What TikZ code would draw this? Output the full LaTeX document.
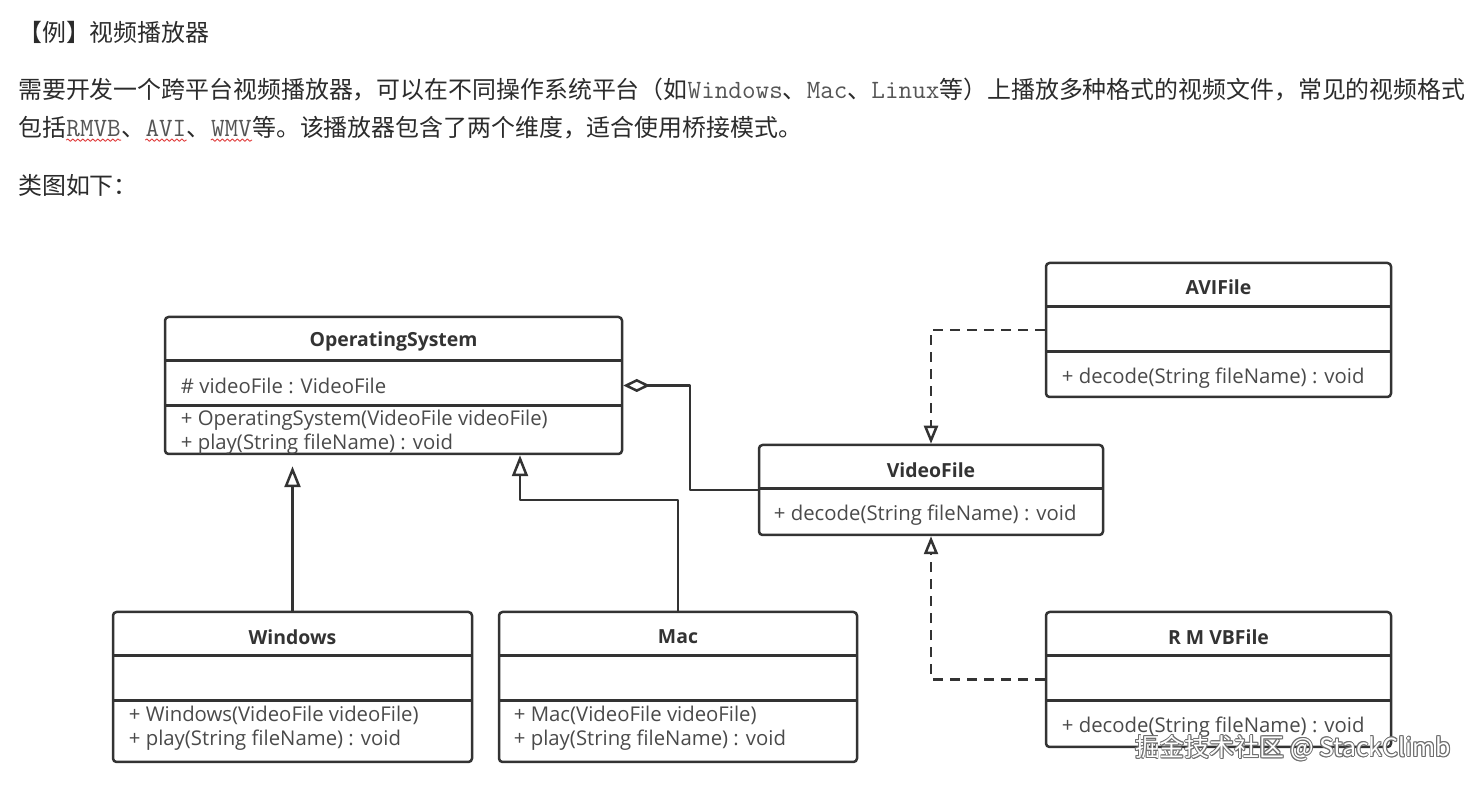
\documentclass[tikz,border=0pt]{standalone}
\usepackage{fontspec}
\setmainfont{Open Sans}
\newfontfamily\cjkfont{Noto Sans CJK SC}
\usetikzlibrary{arrows.meta,decorations.pathmorphing}
\definecolor{umlline}{HTML}{333333}
\definecolor{umltitle}{HTML}{333333}
\definecolor{umltext}{HTML}{4A4A4A}
\definecolor{bodytext}{HTML}{2B2B2B}
\definecolor{monotext}{HTML}{555555}
\definecolor{wavered}{HTML}{E03C3C}
\definecolor{markgrey}{HTML}{6E6E6E}
\newcommand{\monoword}[1]{\textcolor{monotext}{\ttfamily\fontsize{26.5}{28}\selectfont #1}}

\begin{document}
\begin{tikzpicture}[>=latex,line join=round,
  classbox/.style={draw=umlline,line width=2.5bp,rounded corners=3.5bp,fill=white,inner sep=0pt},
  ctitle/.style={font=\bfseries\fontsize{19.5}{22}\selectfont,text=umltitle,inner sep=0pt},
  member/.style={font=\fontsize{20.4}{23}\selectfont,text=umltext,anchor=west,inner sep=0pt},
  divider/.style={draw=umlline,line width=2.5bp},
  inherit/.style={draw=umlline,line width=2.5bp,-{Triangle[open,length=21bp,width=16bp]}},
  realize/.style={draw=umlline,line width=2.5bp,dash pattern=on 10bp off 7bp,-{Triangle[open,length=18bp,width=14bp]}},
  aggregate/.style={draw=umlline,line width=2.5bp,-{Diamond[open,length=27bp,width=13bp]}},
  bodyline/.style={font=\cjkfont\fontsize{24}{28}\selectfont,text=bodytext,anchor=west,inner sep=0pt},
  bodypart/.style={bodyline,anchor=base west},
  wavy/.style={draw=wavered,line width=0.9bp,decorate,decoration={snake,amplitude=1.2bp,segment length=5bp}},
  markline/.style={font=\cjkfont\fontsize{25}{29}\selectfont,inner sep=0pt},
]
\clip (0,0) rectangle (1475bp,785bp);
%%
\node (title) at (18bp,753bp) [bodyline] {【例】视频播放器};
\node (intro1) at (18bp,695bp) [bodyline] {需要开发一个跨平台视频播放器，可以在不同操作系统平台（如\monoword{Windows}、\monoword{Mac}、\monoword{Linux}等）上播放多种格式的视频文件，常见的视频格式};
\node (intro2) at (18bp,658bp) [bodyline] {包括};
\node (rmvb-word) at (intro2.base east) [bodypart] {\monoword{RMVB}};
\node (sep1) at (rmvb-word.base east) [bodypart] {、};
\node (avi-word) at (sep1.base east) [bodypart] {\monoword{AVI}};
\node (sep2) at (avi-word.base east) [bodypart] {、};
\node (wmv-word) at (sep2.base east) [bodypart] {\monoword{WMV}};
\node (intro2-rest) at (wmv-word.base east) [bodypart] {等。该播放器包含了两个维度，适合使用桥接模式。};
\foreach \w in {rmvb-word,avi-word,wmv-word}
  \draw [wavy] ([yshift=-4bp]\w.base west) -- ([yshift=-4bp]\w.base east);
\node (caption) at (18bp,600bp) [bodyline] {类图如下：};
%%
\node (os) at (393.5bp,399.5bp) [classbox,minimum width=457bp,minimum height=137bp] {};
\node (win) at (292.5bp,98bp) [classbox,minimum width=359bp,minimum height=150bp] {};
\node (mac) at (678bp,98bp) [classbox,minimum width=358bp,minimum height=150bp] {};
\node (vf) at (931bp,295bp) [classbox,minimum width=344bp,minimum height=90bp] {};
\node (avi) at (1218.5bp,455bp) [classbox,minimum width=345bp,minimum height=134bp] {};
\node (rmvb) at (1218.5bp,105.5bp) [classbox,minimum width=345bp,minimum height=135bp] {};
%
\foreach \c in {os,win,mac,vf,avi,rmvb}
  \draw [divider] ([yshift=-45bp]\c.north west) -- ([yshift=-45bp]\c.north east);
\foreach \c in {os,win,mac,avi,rmvb}
  \draw [divider] ([yshift=-90bp]\c.north west) -- ([yshift=-90bp]\c.north east);
%%
\node (os-name) at ([yshift=-26bp]os.north) [ctitle] {OperatingSystem};
\node (os-attr) at ([xshift=17bp,yshift=-70bp]os.north west) [member] {\# videoFile : VideoFile};
\node (os-ctor) at ([xshift=17bp,yshift=-104bp]os.north west) [member] {+ OperatingSystem(VideoFile videoFile)};
\node (os-play) at ([xshift=17bp,yshift=-128bp]os.north west) [member] {+ play(String fileName) : void};
%
\node (win-name) at ([yshift=-26bp]win.north) [ctitle] {Windows};
\node (win-ctor) at ([xshift=17bp,yshift=-105bp]win.north west) [member] {+ Windows(VideoFile videoFile)};
\node (win-play) at ([xshift=17bp,yshift=-129bp]win.north west) [member] {+ play(String fileName) : void};
%
\node (mac-name) at ([yshift=-26bp]mac.north) [ctitle] {Mac};
\node (mac-ctor) at ([xshift=16bp,yshift=-105bp]mac.north west) [member] {+ Mac(VideoFile videoFile)};
\node (mac-play) at ([xshift=16bp,yshift=-129bp]mac.north west) [member] {+ play(String fileName) : void};
%
\node (vf-name) at ([yshift=-26bp]vf.north) [ctitle] {VideoFile};
\node (vf-decode) at ([xshift=16bp,yshift=-71bp]vf.north west) [member] {+ decode(String fileName) : void};
%
\node (avi-name) at ([yshift=-25bp]avi.north) [ctitle] {AVIFile};
\node (avi-decode) at ([xshift=17bp,yshift=-116bp]avi.north west) [member] {+ decode(String fileName) : void};
%
\node (rmvb-name) at ([yshift=-26bp]rmvb.north) [ctitle] {R M VBFile};
\node (rmvb-decode) at ([xshift=17bp,yshift=-116bp]rmvb.north west) [member] {+ decode(String fileName) : void};
%%
\coordinate (macbend) at (520bp,285bp);
\coordinate (aggbend) at (690bp,399.5bp);
\draw [inherit] (win.north) -- ([yshift=-11bp]win.north |- os.south);
\draw [inherit] (mac.north) |- (macbend) -- (macbend |- os.south);
\draw [aggregate] (vf.west) -| (aggbend) -- (os.east);
\draw [realize] (avi.west) -| (vf.north);
\draw [realize] (rmvb.west) -| (vf.south);
%% watermark: grey outline, white fill
\foreach \a [count=\i] in {0,45,...,315}
  \node (mark-\i) at ([shift={(\a:0.9bp)}]1293bp,37bp) [markline,text=markgrey] {掘金技术社区 @ StackClimb};
\node (mark) at (1293bp,37bp) [markline,text=white] {掘金技术社区 @ StackClimb};
%
\end{tikzpicture}
\end{document}
